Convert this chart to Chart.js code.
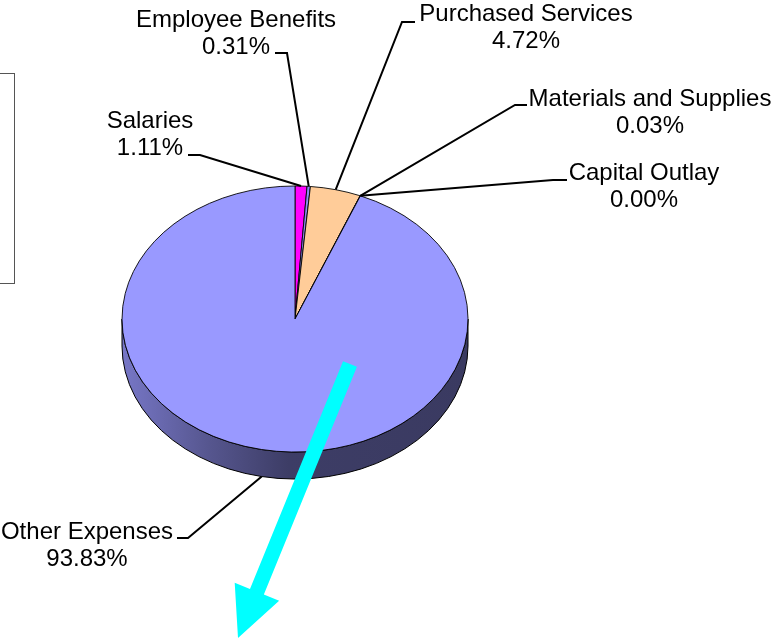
<!DOCTYPE html>
<html><head><meta charset="utf-8">
<script src="https://cdn.jsdelivr.net/npm/chart.js@4.4.1/dist/chart.umd.min.js"></script>
<style>html,body{margin:0;padding:0;background:#fff;}#wrap{width:775px;height:642px;position:relative;overflow:hidden;}</style>
</head><body><div id="wrap"><canvas id="c" width="775" height="642"></canvas></div>
<script>
const categories = ['Salaries','Employee Benefits','Purchased Services','Materials and Supplies','Capital Outlay','Other Expenses'];
const percentValues = [1.11, 0.31, 4.72, 0.03, 0.00, 93.83];
const sliceColors = ['#FF00FF','#8C8CF2','#FFCC99','#99CCFF','#CC99FF','#9999FF'];

const TILT = 0.769, DEPTH = 27;
const FONT = '24px "Liberation Sans", Arial, sans-serif';
const labelLayout = [
  {x:150, y:128, hx:[188,200], hy:155},
  {x:236, y:27,  hx:[275,287], hy:53},
  {x:526, y:21,  hx:[415,402], hy:22},
  {x:650, y:106, hx:[527,515], hy:105},
  {x:644, y:180, hx:[567,553], hy:180},
  {x:87,  y:539, hx:[177,188], hy:538}
];

function shade(hex, f){
  const n = parseInt(hex.slice(1),16);
  return 'rgb(' + Math.round((n>>16&255)*f) + ',' + Math.round((n>>8&255)*f) + ',' + Math.round((n&255)*f) + ')';
}

const pie3d = {
  id: 'pie3d',
  beforeDatasetsDraw(chart){
    const ctx = chart.ctx;
    const meta = chart.getDatasetMeta(0);
    const a0 = meta.data[0];
    const cx = a0.x, cy = a0.y, r = a0.outerRadius, ry = r*TILT;
    ctx.save();
    meta.data.forEach((arc, i) => {
      const a = Math.max(arc.startAngle, 0), b = Math.min(arc.endAngle, Math.PI);
      if (b <= a) return;
      const col = sliceColors[i];
      const g = ctx.createLinearGradient(cx - r, 0, cx + r, 0);
      g.addColorStop(0, shade(col, 0.78));
      g.addColorStop(0.25, shade(col, 0.56));
      g.addColorStop(0.48, shade(col, 0.4));
      g.addColorStop(1, shade(col, 0.38));
      ctx.beginPath();
      ctx.ellipse(cx, cy, r, ry, 0, a, b, false);
      ctx.ellipse(cx, cy + DEPTH, r, ry, 0, b, a, true);
      ctx.closePath();
      ctx.fillStyle = g; ctx.fill();
      ctx.lineWidth = 1; ctx.strokeStyle = '#000'; ctx.stroke();
    });
    ctx.restore();
    ctx.save();
    ctx.translate(cx, cy); ctx.scale(1, TILT); ctx.translate(-cx, -cy);
  },
  afterDatasetsDraw(chart){
    const ctx = chart.ctx;
    ctx.restore();
    const meta = chart.getDatasetMeta(0);
    const total = percentValues.reduce((s,v)=>s+v,0);
    ctx.save();
    ctx.font = FONT;
    ctx.fillStyle = '#000';
    ctx.textAlign = 'center';
    ctx.textBaseline = 'alphabetic';
    meta.data.forEach((arc, i) => {
      const L = labelLayout[i];
      const mid = (arc.startAngle + arc.endAngle)/2;
      const r = arc.outerRadius, ry = r*TILT;
      let px = arc.x + r*Math.cos(mid), py = arc.y + ry*Math.sin(mid);
      if (Math.sin(mid) > 0) py += DEPTH;
      ctx.beginPath();
      ctx.moveTo(L.hx[0], L.hy); ctx.lineTo(L.hx[1], L.hy); ctx.lineTo(px, py);
      ctx.lineWidth = 2; ctx.strokeStyle = '#000'; ctx.stroke();
      ctx.fillText(categories[i], L.x, L.y);
      ctx.fillText((percentValues[i]/total*100).toFixed(2) + '%', L.x, L.y + 27);
    });
    ctx.restore();
  },
  afterDraw(chart){
    const ctx = chart.ctx;
    ctx.save();
    ctx.strokeStyle = '#555'; ctx.lineWidth = 1;
    ctx.strokeRect(-10.5, 73.5, 25, 210);
    const sx = 350, sy = 364, tx = 238, ty = 638;
    const dx = tx - sx, dy = ty - sy, len = Math.hypot(dx, dy);
    const ux = dx/len, uy = dy/len, nx = -uy, ny = ux;
    const hw = 7.5, headW = 24, headL = 50;
    const bx = tx - ux*headL, by = ty - uy*headL;
    ctx.beginPath();
    ctx.moveTo(sx + nx*hw, sy + ny*hw);
    ctx.lineTo(bx + nx*hw, by + ny*hw);
    ctx.lineTo(bx + nx*headW, by + ny*headW);
    ctx.lineTo(tx, ty);
    ctx.lineTo(bx - nx*headW, by - ny*headW);
    ctx.lineTo(bx - nx*hw, by - ny*hw);
    ctx.lineTo(sx - nx*hw, sy - ny*hw);
    ctx.closePath();
    ctx.fillStyle = '#00FFFF'; ctx.fill();
    ctx.restore();
  }
};

new Chart(document.getElementById('c'), {
  type: 'pie',
  data: {
    labels: categories,
    datasets: [{
      data: percentValues,
      backgroundColor: sliceColors,
      borderColor: '#000',
      borderWidth: 1,
      radius: 173
    }]
  },
  options: {
    responsive: false,
    animation: false,
    events: [],
    devicePixelRatio: 1,
    layout: { padding: { left: 0, right: 185, top: 0, bottom: 4 } },
    plugins: { legend: { display: false }, tooltip: { enabled: false } }
  },
  plugins: [pie3d]
});
</script>
</body></html>
